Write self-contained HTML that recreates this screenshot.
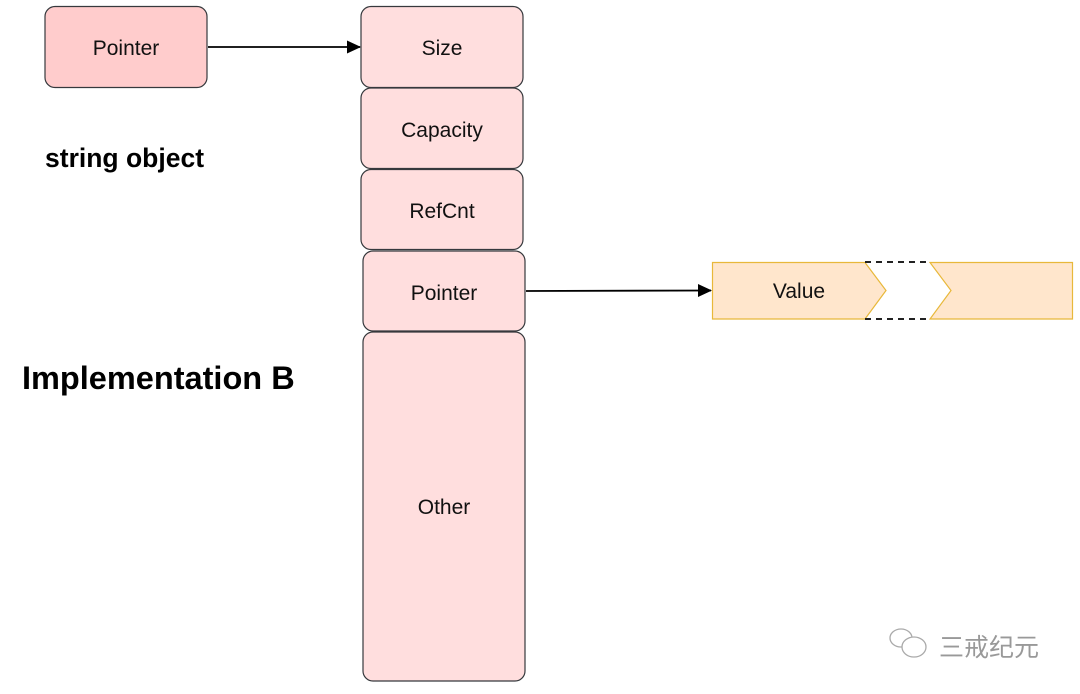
<!DOCTYPE html>
<html><head><meta charset="utf-8"><style>
html,body{margin:0;padding:0;background:#fff;width:1080px;height:694px;overflow:hidden}
svg text{font-family:"Liberation Sans",sans-serif}
</style></head><body>
<svg width="1080" height="694" viewBox="0 0 1080 694" xmlns="http://www.w3.org/2000/svg">
<defs><marker id="a" markerWidth="14" markerHeight="14" refX="13" refY="6.5" orient="auto" markerUnits="userSpaceOnUse"><path d="M0,0 L14,6.5 L0,13 Z" fill="#000"/></marker></defs>
<g stroke="#36393d" stroke-width="1.2">
<rect x="45" y="6.5" width="162" height="81" rx="10" fill="#ffcccc"/>
<rect x="361" y="6.5" width="162" height="81" rx="10" fill="#ffdede"/>
<rect x="361" y="88" width="162" height="80.5" rx="10" fill="#ffdede"/>
<rect x="361" y="169.5" width="162" height="80" rx="10" fill="#ffdede"/>
<rect x="363" y="251" width="162" height="80" rx="10" fill="#ffdede"/>
<rect x="363" y="332" width="162" height="349" rx="10" fill="#ffdede"/>
</g>
<line x1="208" y1="47" x2="360" y2="47" stroke="#000" stroke-width="1.8" marker-end="url(#a)"/>
<path d="M526,291 L711,290.5" stroke="#000" stroke-width="1.8" fill="none" marker-end="url(#a)"/>
<polygon points="712.5,262.5 865,262.5 886,290.5 865,319 712.5,319" fill="#ffe6cc" stroke="#e8b83a" stroke-width="1.2"/>
<polygon points="930,262.5 1072.5,262.5 1072.5,319 930,319 951,290.5" fill="#ffe6cc" stroke="#e8b83a" stroke-width="1.2"/>
<line x1="865" y1="262" x2="930" y2="262" stroke="#222" stroke-width="2" stroke-dasharray="6,5"/>
<line x1="865" y1="319" x2="930" y2="319" stroke="#222" stroke-width="2" stroke-dasharray="6,5"/>
<g font-size="21" fill="#111" text-anchor="middle">
<text x="126" y="55">Pointer</text>
<text x="442" y="55">Size</text>
<text x="442" y="137">Capacity</text>
<text x="442" y="218">RefCnt</text>
<text x="444" y="300">Pointer</text>
<text x="444" y="514">Other</text>
<text x="799" y="298">Value</text>
</g>
<text x="45" y="167" font-size="26.5" font-weight="bold" fill="#000">string object</text>
<text x="22" y="389" font-size="32.5" font-weight="bold" fill="#000">Implementation B</text>
<g stroke="#aaa" stroke-width="1.3" fill="#fff">
<ellipse cx="901" cy="638" rx="11" ry="9"/>
<ellipse cx="914" cy="647" rx="12" ry="10"/>
</g>
<text x="939" y="656" font-size="25" fill="#999" style='font-family:"Liberation Sans","Noto Sans CJK SC",sans-serif'>三戒纪元</text>
</svg>
</body></html>
